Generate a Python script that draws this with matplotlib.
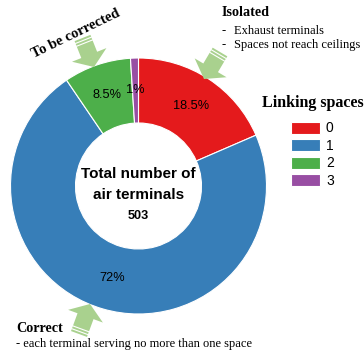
import matplotlib
matplotlib.use("Agg")
import matplotlib.pyplot as plt
from matplotlib.patches import FancyArrow
import numpy as np

# data
labels = ['0', '1', '2', '3']
shares = [18.5, 72, 8.5, 1]
colors = ['#e41a1c', '#377eb8', '#4daf4a', '#984ea3']
total = 503

W, H = 364, 359
SANS = 'Liberation Sans'
SERIF = 'Liberation Serif'
ARROW = '#a9d18e'

fig = plt.figure(figsize=(W / 100, H / 100), dpi=100)
ax = fig.add_axes([0, 0, 1, 1])


def py(y):
    # pixel row (from top) -> data y
    return H - y


def pct(p):
    return ('%.1f' % p).rstrip('0').rstrip('.') + '%'


wedges, _, autotexts = ax.pie(
    shares, colors=colors, startangle=90, counterclock=False,
    center=(138.5, py(186)), radius=128,
    wedgeprops=dict(width=65, edgecolor='white', linewidth=0.8),
    autopct=pct, pctdistance=0.75,
    textprops=dict(fontsize=9.2, family=SANS))

ax.set_xlim(0, W)
ax.set_ylim(0, H)
ax.axis('off')

# centre text
ax.text(138.5, py(174), 'Total number of', ha='center', va='center',
        fontsize=11, fontweight='bold', family=SANS)
ax.text(138.5, py(195), 'air terminals', ha='center', va='center',
        fontsize=11, fontweight='bold', family=SANS)
ax.text(138.5, py(216), str(total), ha='center', va='center',
        fontsize=9.2, fontweight='bold', family=SANS)

# legend
leg = ax.legend(wedges, labels, title='Linking spaces', loc='upper center',
                bbox_to_anchor=(312.5 / W, 1 - 95 / H), frameon=False,
                prop=dict(family=SANS, size=10),
                title_fontproperties=dict(family=SERIF, weight='bold', size=11.5),
                handlelength=2.1, handleheight=0.95, labelspacing=0.25,
                handletextpad=0.4, borderpad=0, borderaxespad=0)
leg._legend_box.sep = 7.5


# striped block arrows
def block_arrow(tail, tip):
    x0, y0 = tail[0], py(tail[1])
    x1, y1 = tip[0], py(tip[1])
    dx, dy = x1 - x0, y1 - y0
    ax.add_patch(FancyArrow(x0, y0, dx, dy, width=17, head_width=37,
                            head_length=13, length_includes_head=True,
                            color=ARROW, lw=0))
    L = np.hypot(dx, dy)
    ux, uy = dx / L, dy / L
    nx, ny = -uy, ux
    for d in (2.5, 5.5):
        cx, cy = x0 + ux * d, y0 + uy * d
        ax.plot([cx - nx * 9, cx + nx * 9], [cy - ny * 9, cy + ny * 9],
                color='white', lw=0.8, solid_capstyle='butt')


block_arrow((82.5, 38), (94, 67))
block_arrow((220, 52), (204, 79))
block_arrow((79, 334), (90, 304))

# annotations
ax.text(76, py(34), 'To be corrected', rotation=26, ha='center', va='center',
        fontsize=10.5, fontweight='bold', family=SERIF)

ax.text(222, py(13), 'Isolated', ha='left', va='center',
        fontsize=10.2, fontweight='bold', family=SERIF)
ax.text(222, py(31), '-', ha='left', va='center', fontsize=9, family=SERIF)
ax.text(234, py(31), 'Exhaust terminals', ha='left', va='center',
        fontsize=9, family=SERIF)
ax.text(222, py(45), '-', ha='left', va='center', fontsize=9, family=SERIF)
ax.text(234, py(45), 'Spaces not reach ceilings', ha='left', va='center',
        fontsize=9, family=SERIF)

ax.text(16, py(328), 'Correct', ha='left', va='center',
        fontsize=10.2, fontweight='bold', family=SERIF)
ax.text(16, py(344), '- each terminal serving no more than one space',
        ha='left', va='center', fontsize=9, family=SERIF)

fig.savefig('out.png', dpi=100)
